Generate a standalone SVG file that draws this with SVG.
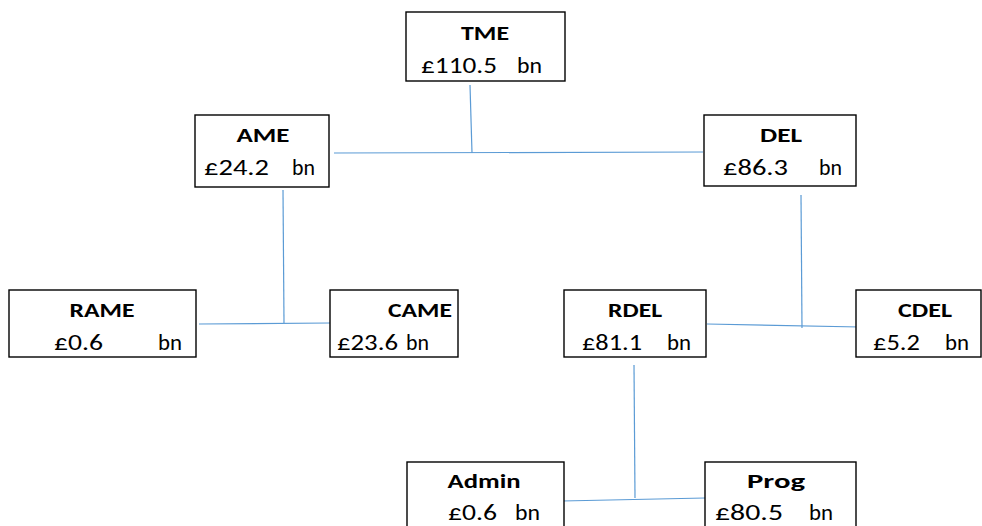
<svg xmlns="http://www.w3.org/2000/svg" width="982" height="526" viewBox="0 0 982 526">
<style>
.box{fill:#fff;stroke:#000;stroke-width:1.4}
.t{font-family:Carlito,Lato,"Liberation Sans",sans-serif;font-size:22px;fill:#000}
.b{font-weight:bold;text-anchor:middle;font-size:21px}
.c{stroke:#5b9bd5;stroke-width:1.2;fill:none}
</style>
<rect width="982" height="526" fill="#fff"/>
<g id="connectors">
<line class="c" x1="470" y1="85" x2="472" y2="153"/>
<line class="c" x1="334" y1="153" x2="703" y2="152"/>
<line class="c" x1="283" y1="190" x2="284" y2="323"/>
<line class="c" x1="199" y1="324" x2="330" y2="323"/>
<line class="c" x1="801" y1="195" x2="802" y2="328"/>
<line class="c" x1="707" y1="324" x2="860" y2="327"/>
<line class="c" x1="634" y1="365" x2="635" y2="498"/>
<line class="c" x1="562" y1="501" x2="705" y2="498"/>
</g>
<g id="TME">
<rect class="box" x="406" y="12" width="159" height="69"/>
<text class="t b" x="485" y="40" textLength="48" lengthAdjust="spacingAndGlyphs">TME</text>
<text class="t" x="421" y="73" textLength="76" lengthAdjust="spacingAndGlyphs">£110.5</text><text class="t" x="517" y="73" textLength="25" lengthAdjust="spacingAndGlyphs">bn</text>
</g>
<g id="AME">
<rect class="box" x="195" y="115" width="134" height="72"/>
<text class="t b" x="263" y="142" textLength="53" lengthAdjust="spacingAndGlyphs">AME</text>
<text class="t" x="204" y="175" textLength="65" lengthAdjust="spacingAndGlyphs">£24.2</text><text class="t" x="292" y="175" textLength="23" lengthAdjust="spacingAndGlyphs">bn</text>
</g>
<g id="DEL">
<rect class="box" x="704" y="115" width="152" height="71"/>
<text class="t b" x="781" y="142" textLength="42" lengthAdjust="spacingAndGlyphs">DEL</text>
<text class="t" x="723" y="175" textLength="65" lengthAdjust="spacingAndGlyphs">£86.3</text><text class="t" x="819" y="175" textLength="23" lengthAdjust="spacingAndGlyphs">bn</text>
</g>
<g id="RAME">
<rect class="box" x="9" y="290" width="187" height="67"/>
<text class="t b" x="102" y="317" textLength="65" lengthAdjust="spacingAndGlyphs">RAME</text>
<text class="t" x="54" y="350" textLength="49" lengthAdjust="spacingAndGlyphs">£0.6</text><text class="t" x="158" y="350" textLength="24" lengthAdjust="spacingAndGlyphs">bn</text>
</g>
<g id="CAME">
<rect class="box" x="330" y="290" width="128" height="67"/>
<text class="t b" x="420" y="317" textLength="64" lengthAdjust="spacingAndGlyphs">CAME</text>
<text class="t" x="337" y="350" textLength="61" lengthAdjust="spacingAndGlyphs">£23.6</text><text class="t" x="406" y="350" textLength="23" lengthAdjust="spacingAndGlyphs">bn</text>
</g>
<g id="RDEL">
<rect class="box" x="564" y="290" width="142" height="67"/>
<text class="t b" x="635" y="317" textLength="54" lengthAdjust="spacingAndGlyphs">RDEL</text>
<text class="t" x="582" y="350" textLength="60" lengthAdjust="spacingAndGlyphs">£81.1</text><text class="t" x="667" y="350" textLength="24" lengthAdjust="spacingAndGlyphs">bn</text>
</g>
<g id="CDEL">
<rect class="box" x="856" y="290" width="125" height="67"/>
<text class="t b" x="925" y="317" textLength="54" lengthAdjust="spacingAndGlyphs">CDEL</text>
<text class="t" x="873" y="350" textLength="47" lengthAdjust="spacingAndGlyphs">£5.2</text><text class="t" x="945" y="350" textLength="24" lengthAdjust="spacingAndGlyphs">bn</text>
</g>
<g id="Admin">
<rect class="box" x="407" y="462" width="157" height="70"/>
<text class="t b" x="484" y="488" textLength="73" lengthAdjust="spacingAndGlyphs">Admin</text>
<text class="t" x="448" y="520" textLength="49" lengthAdjust="spacingAndGlyphs">£0.6</text><text class="t" x="515" y="520" textLength="25" lengthAdjust="spacingAndGlyphs">bn</text>
</g>
<g id="Prog">
<rect class="box" x="705" y="462" width="151" height="70"/>
<text class="t b" x="776" y="488" textLength="58" lengthAdjust="spacingAndGlyphs">Prog</text>
<text class="t" x="715" y="520" textLength="68" lengthAdjust="spacingAndGlyphs">£80.5</text><text class="t" x="809" y="520" textLength="24" lengthAdjust="spacingAndGlyphs">bn</text>
</g>
</svg>
